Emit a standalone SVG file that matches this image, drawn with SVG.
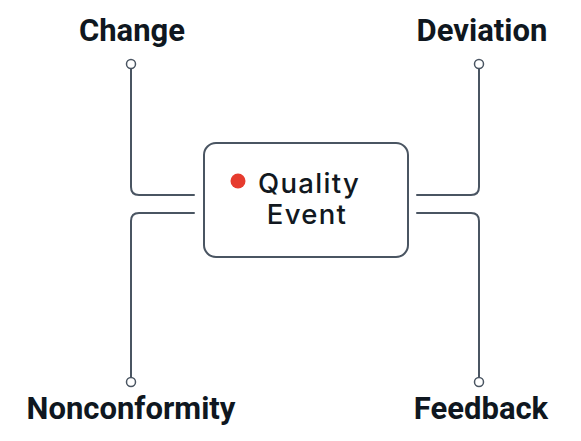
<svg xmlns="http://www.w3.org/2000/svg" width="581" height="441" viewBox="0 0 581 441">
<style>
.lbl{font-family:Roboto,"Liberation Sans",sans-serif;font-weight:700;font-size:31px;fill:#0f1720;text-anchor:middle}
.conn{fill:none;stroke:#4a5562;stroke-width:2;stroke-linecap:round}
.term{fill:#fff;stroke:#4a5562;stroke-width:1.5}
.ctr{font-family:Inter,"Liberation Sans",sans-serif;font-size:27.5px;font-weight:500;letter-spacing:1.3px;fill:#111820;text-anchor:middle}
</style>
<rect width="581" height="441" fill="#fff"/>
<g id="connectors">
<path class="conn" d="M131 68 V187 Q131 195 139 195 H194"/>
<path class="conn" d="M479 68 V187 Q479 195 471 195 H417"/>
<path class="conn" d="M194 213 H139 Q131 213 131 221 V378"/>
<path class="conn" d="M417 213 H471 Q479 213 479 221 V378"/>
<circle class="term" cx="131" cy="64" r="4.5"/>
<circle class="term" cx="479" cy="64" r="4.5"/>
<circle class="term" cx="131" cy="382" r="4.5"/>
<circle class="term" cx="479" cy="382" r="4.5"/>
</g>
<g id="center">
<rect x="204" y="143" width="204" height="114" rx="12" fill="#fff" stroke="#4a5562" stroke-width="2"/>
<circle cx="238" cy="181" r="7.5" fill="#e63b2e"/>
<text class="ctr" x="309" y="193">Quality</text>
<text class="ctr" x="307" y="224">Event</text>
</g>
<g id="change"><text class="lbl" x="132" y="41">Change</text></g>
<g id="deviation"><text class="lbl" x="482" y="41">Deviation</text></g>
<g id="nonconformity"><text class="lbl" x="131" y="419">Nonconformity</text></g>
<g id="feedback"><text class="lbl" x="481" y="419">Feedback</text></g>
</svg>
